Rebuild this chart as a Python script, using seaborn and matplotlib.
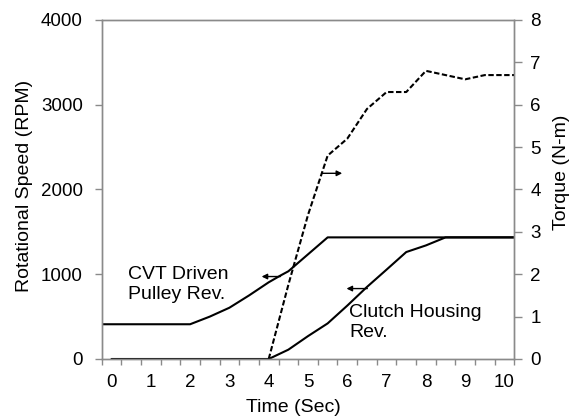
import numpy as np
import pandas as pd
import matplotlib
matplotlib.use("Agg")
import matplotlib.pyplot as plt
import seaborn as sns

# ---- data ----
pulley_t = [-0.25, 2.0, 2.5, 3.0, 3.5, 4.0, 4.3, 4.5, 5.5, 10.25]
pulley_rpm = [410, 410, 500, 605, 750, 905, 985, 1035, 1435, 1435]

clutch_t = [0, 4.0, 4.5, 5.0, 5.5, 6.0, 6.5, 7.0, 7.5, 8.0, 8.5, 10.25]
clutch_rpm = [0, 0, 110, 270, 420, 630, 850, 1055, 1262, 1340, 1435, 1435]

torque_t = [4.0, 4.5, 5.0, 5.5, 6.0, 6.5, 7.0, 7.5, 8.0, 9.0, 9.5, 10.25]
torque_nm = [0, 1.75, 3.4, 4.8, 5.2, 5.9, 6.3, 6.3, 6.8, 6.6, 6.7, 6.7]

x_labels = [str(i) for i in range(11)]
rpm_ticks = [0, 1000, 2000, 3000, 4000]
torque_ticks = list(range(9))

sns.set_theme(style="white")
plt.rcParams['font.family'] = ['Liberation Sans', 'DejaVu Sans']

fig = plt.figure(figsize=(5.69, 4.19), dpi=100)
ax = fig.add_axes([0.1787, 0.1432, 0.7252, 0.8091])
ax2 = ax.twinx()

sns.lineplot(x=pulley_t, y=pulley_rpm, ax=ax, color='black', lw=1.5,
             estimator=None, sort=False)
sns.lineplot(x=clutch_t, y=clutch_rpm, ax=ax, color='black', lw=1.5,
             estimator=None, sort=False)
sns.lineplot(x=torque_t, y=torque_nm, ax=ax2, color='black', lw=1.5,
             estimator=None, sort=False, linestyle=(0, (2.6, 1.2)))

ax.set_xlim(-0.25, 10.25)
ax.set_ylim(0, 4000)
ax2.set_ylim(0, 8)

ax.set_xticks(range(11))
ax.set_xticklabels(x_labels)
ax.set_xticks(np.arange(-0.25, 10.26, 0.5), minor=True)
ax.set_yticks(rpm_ticks)
ax.set_yticklabels([str(v) for v in rpm_ticks])
ax2.set_yticks(torque_ticks)
ax2.set_yticklabels([str(v) for v in torque_ticks])

gray = '#8a8a8a'
for a in (ax, ax2):
    for s in a.spines.values():
        s.set_color(gray)
        s.set_linewidth(1.0)
    a.grid(False)

ax.tick_params(axis='x', which='major', length=0, pad=11, labelsize=13.5, colors='black')
ax.tick_params(axis='x', which='minor', bottom=True, length=4, width=1, color=gray, direction='out')
ax.tick_params(axis='y', which='major', left=True, length=5, width=1, color=gray,
               direction='out', pad=8.5, labelsize=13.5, labelcolor='black')
ax2.tick_params(axis='y', which='major', right=True, length=5.5, width=1, color=gray,
                direction='out', pad=6, labelsize=13.5, labelcolor='black')

ax.set_xlabel('Time (Sec)', fontsize=14, color='black')
ax.set_ylabel('Rotational Speed (RPM)', fontsize=14, color='black')
ax2.set_ylabel('Torque (N-m)', fontsize=14, color='black')
ax.xaxis.set_label_coords(0.464, -0.1416)
ax.xaxis.label.set_verticalalignment('center')
ax.yaxis.set_label_coords(-0.186, 0.51)
ax.yaxis.label.set_verticalalignment('center')
ax2.yaxis.set_label_coords(1.115, 0.552)
ax2.yaxis.label.set_verticalalignment('center')

ax.text(0.42, 882, 'CVT Driven\nPulley Rev.', fontsize=14, va='center', ha='left',
        linespacing=1.25, color='black')
ax.text(6.05, 429, 'Clutch Housing\nRev.', fontsize=14, va='center', ha='left',
        linespacing=1.25, color='black')

arrow = dict(arrowstyle='-|>', color='black', lw=1.0, mutation_scale=8,
             shrinkA=0, shrinkB=0)
ax.annotate('', xy=(3.82, 973), xytext=(4.30, 973), arrowprops=arrow)
ax.annotate('', xy=(5.98, 831), xytext=(6.51, 831), arrowprops=arrow)
ax.annotate('', xy=(5.87, 2191), xytext=(5.36, 2191), arrowprops=arrow)

fig.savefig('out.png', dpi=100)
